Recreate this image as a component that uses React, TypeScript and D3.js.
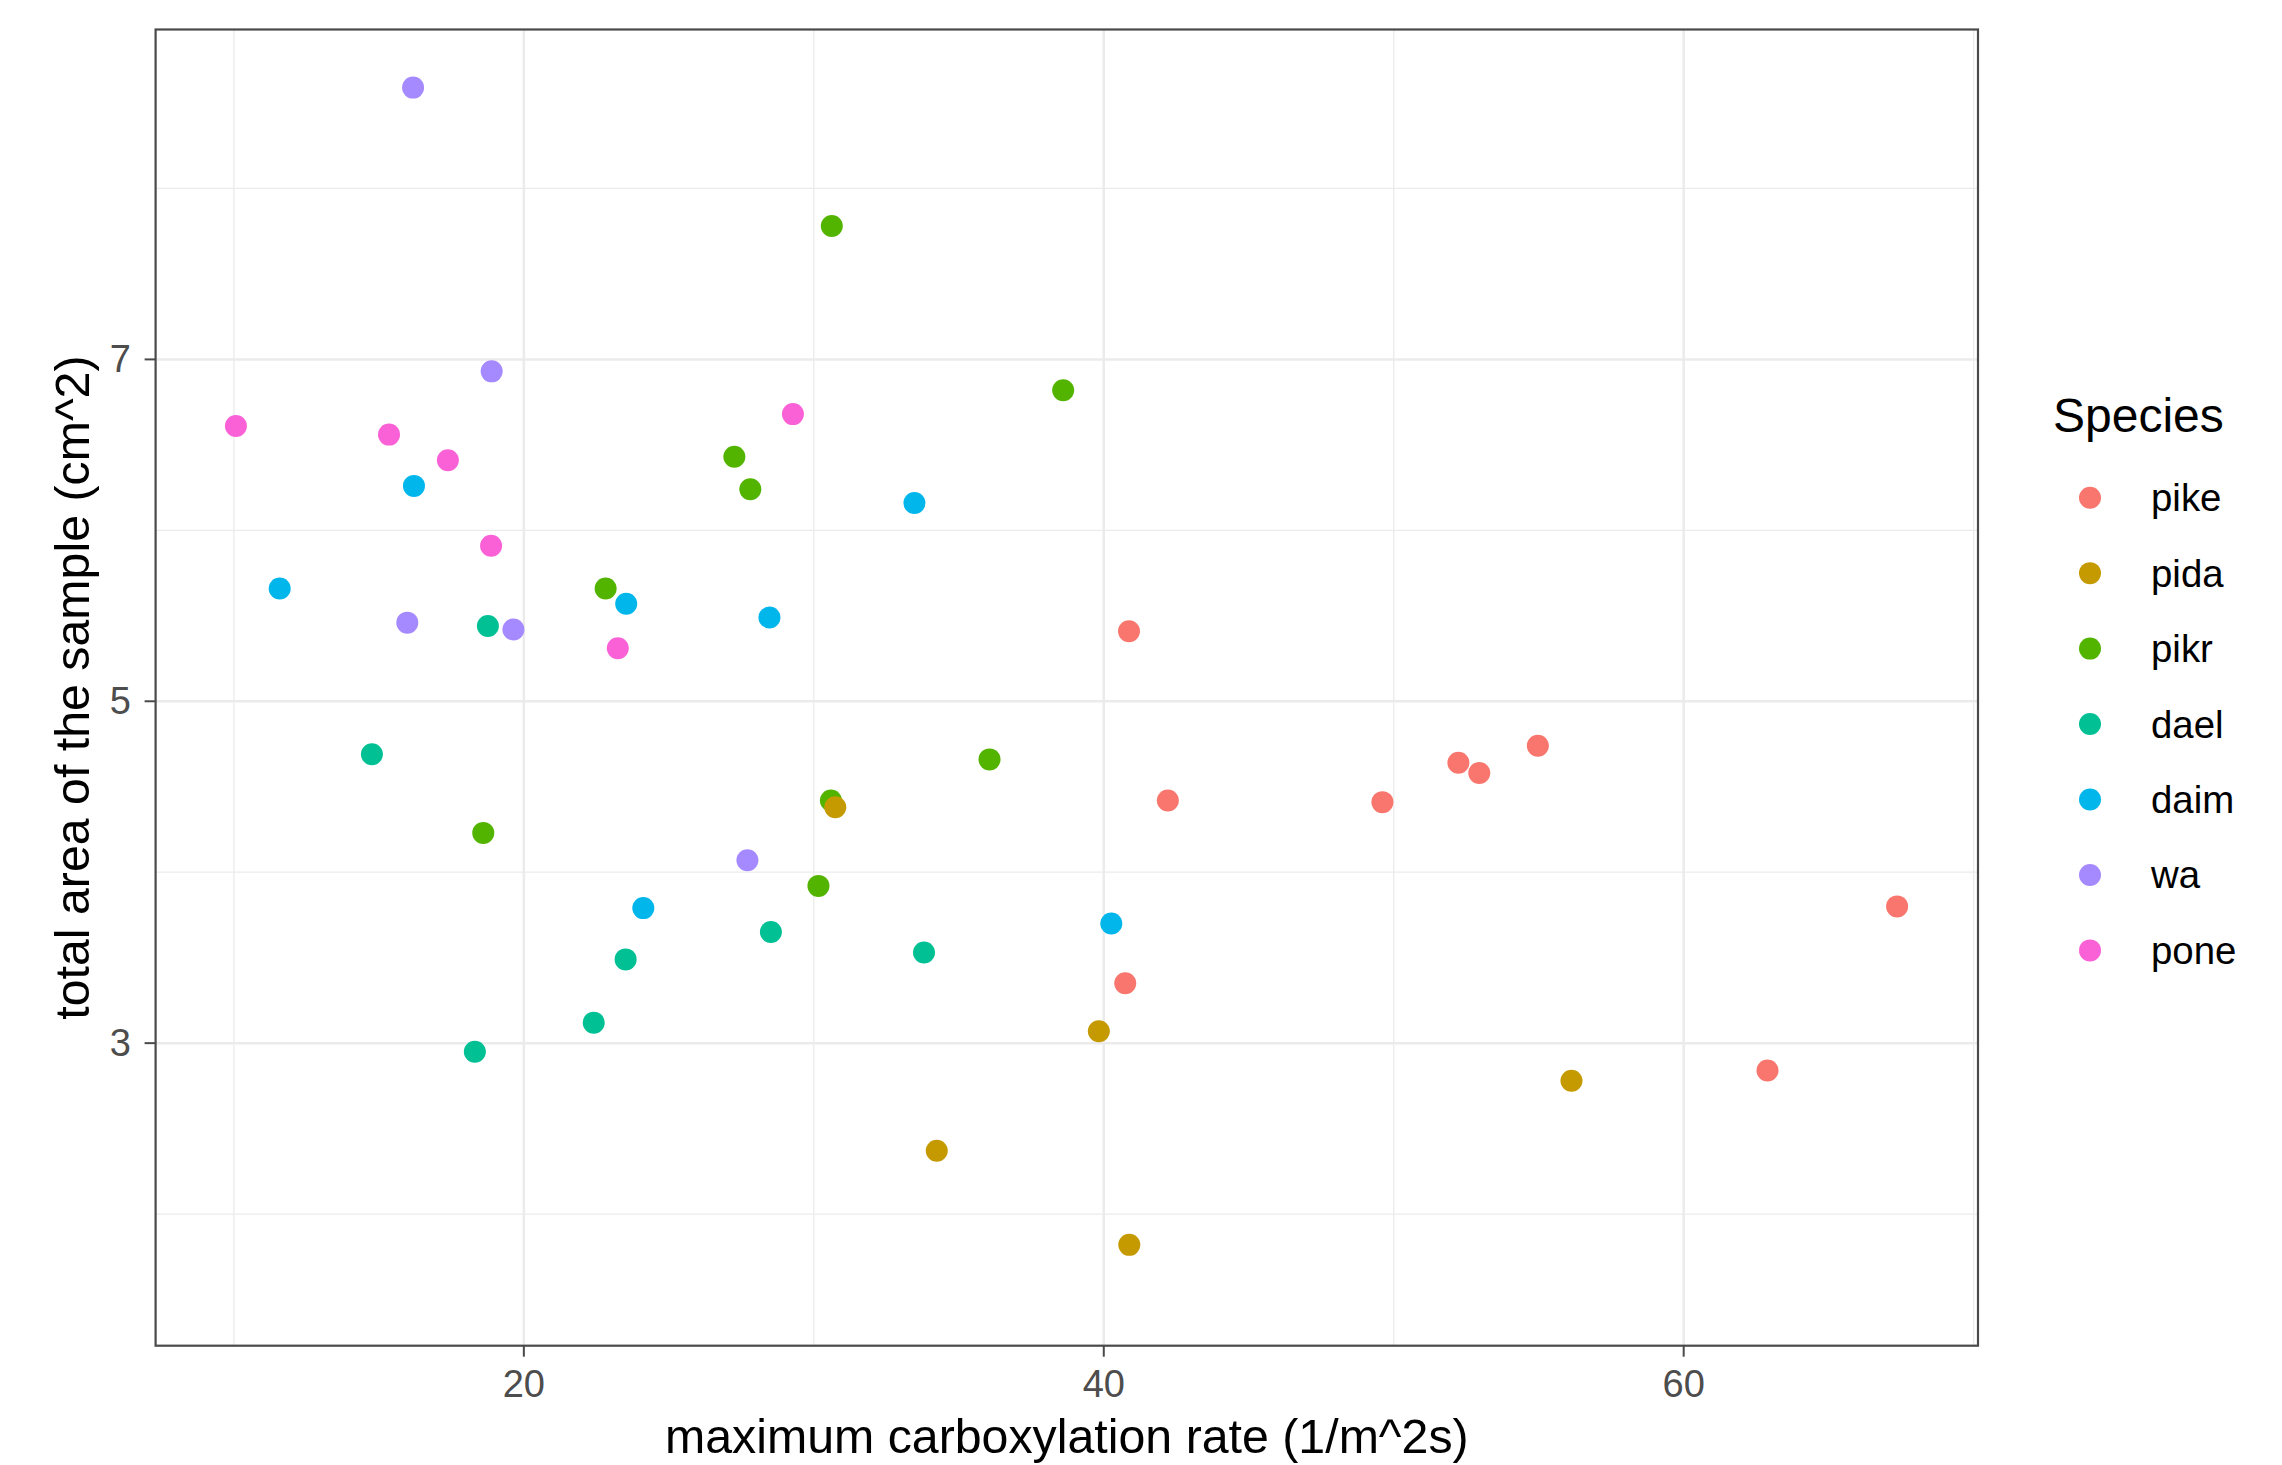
import React from 'react';
import * as d3 from 'd3';

// species in legend order, with the default ggplot hue colours
const species = ['pike', 'pida', 'pikr', 'dael', 'daim', 'wa', 'pone'];
const speciesColors = ['#F8766D', '#C49A00', '#53B400', '#00C094', '#00B6EB', '#A58AFF', '#FB61D7'];

// [carboxylation rate, total area]
const pike: [number, number][] = [
  [40.87, 5.41], [42.21, 4.42], [40.74, 3.35], [49.61, 4.41], [52.23, 4.64],
  [52.95, 4.58], [54.97, 4.74], [67.36, 3.80], [62.89, 2.84],
];
const pida: [number, number][] = [
  [30.74, 4.38], [39.83, 3.07], [34.24, 2.37], [40.88, 1.82], [56.13, 2.78],
];
const pikr: [number, number][] = [
  [22.82, 5.66], [27.26, 6.43], [27.81, 6.24], [30.62, 7.78], [38.60, 6.82],
  [18.60, 4.23], [36.06, 4.66], [30.59, 4.42], [30.16, 3.92],
];
const dael: [number, number][] = [
  [18.76, 5.44], [14.76, 4.69], [23.51, 3.49], [22.41, 3.12], [18.31, 2.95],
  [28.52, 3.65], [33.80, 3.53],
];
const daim: [number, number][] = [
  [16.21, 6.26], [11.58, 5.66], [23.53, 5.57], [28.47, 5.49], [33.47, 6.16],
  [24.12, 3.79], [40.26, 3.70],
];
const wa: [number, number][] = [
  [16.18, 8.59], [18.89, 6.93], [15.98, 5.46], [19.64, 5.42], [27.71, 4.07],
];
const pone: [number, number][] = [
  [10.07, 6.61], [15.35, 6.56], [17.38, 6.41], [18.87, 5.91], [23.24, 5.31],
  [29.28, 6.68],
];

const seriesBySpecies: Record<string, [number, number][]> = { pike, pida, pikr, dael, daim, wa, pone };
// pida sits on top of pikr where they overlap
const drawOrder = ['pike', 'pikr', 'dael', 'daim', 'wa', 'pone', 'pida'];

const xLimits = [7.3, 70.15];
const yLimits = [1.23, 8.93];
const xMajor = [20, 40, 60];
const xMinor = [10, 30, 50, 70];
const yMajor = [3, 5, 7];
const yMinor = [2, 4, 6, 8];

const xTitle = 'maximum carboxylation rate (1/m^2s)';
const yTitle = 'total area of the sample (cm^2)';
const legendTitle = 'Species';

const W = 2282;
const H = 1465;
const panel = { left: 155.6, right: 1978, top: 29.5, bottom: 1345.7 };
const font = '"Liberation Sans", Arial, Helvetica, sans-serif';

const App: React.FC = () => {
  const x = d3.scaleLinear().domain(xLimits).range([panel.left, panel.right]);
  const y = d3.scaleLinear().domain(yLimits).range([panel.bottom, panel.top]);
  const color = d3.scaleOrdinal<string, string>().domain(species).range(speciesColors);

  const legendY = d3.scalePoint<string>().domain(species).range([497.7, 950.4]);

  return (
    <svg width={W} height={H} style={{ position: 'absolute', left: 0, top: 0, background: '#fff' }}
      fontFamily={font}>
      <rect x={0} y={0} width={W} height={H} fill="#fff" />

      {/* minor grid */}
      {xMinor.map(v => (
        <line key={'xm' + v} x1={x(v)} x2={x(v)} y1={panel.top} y2={panel.bottom}
          stroke="#EBEBEB" strokeWidth={1.3} />
      ))}
      {yMinor.map(v => (
        <line key={'ym' + v} x1={panel.left} x2={panel.right} y1={y(v)} y2={y(v)}
          stroke="#EBEBEB" strokeWidth={1.3} />
      ))}
      {/* major grid */}
      {xMajor.map(v => (
        <line key={'xM' + v} x1={x(v)} x2={x(v)} y1={panel.top} y2={panel.bottom}
          stroke="#EBEBEB" strokeWidth={2.5} />
      ))}
      {yMajor.map(v => (
        <line key={'yM' + v} x1={panel.left} x2={panel.right} y1={y(v)} y2={y(v)}
          stroke="#EBEBEB" strokeWidth={2.5} />
      ))}

      {/* points */}
      {drawOrder.map(s => (
        <g key={s} fill={color(s)}>
          {seriesBySpecies[s].map((d, i) => (
            <circle key={i} cx={x(d[0])} cy={y(d[1])} r={11} />
          ))}
        </g>
      ))}

      {/* panel border */}
      <rect x={panel.left} y={panel.top} width={panel.right - panel.left} height={panel.bottom - panel.top}
        fill="none" stroke="#4a4a4a" strokeWidth={2.2} />

      {/* x axis ticks and labels */}
      {xMajor.map(v => (
        <g key={'xt' + v}>
          <line x1={x(v)} x2={x(v)} y1={panel.bottom} y2={panel.bottom + 11} stroke="#4a4a4a" strokeWidth={2} />
          <text x={x(v)} y={1397} textAnchor="middle" fontSize={38} fill="#4D4D4D">{v}</text>
        </g>
      ))}
      {/* y axis ticks and labels */}
      {yMajor.map(v => (
        <g key={'yt' + v}>
          <line x1={panel.left - 11} x2={panel.left} y1={y(v)} y2={y(v)} stroke="#4a4a4a" strokeWidth={2} />
          <text x={131} y={y(v)} textAnchor="end" dominantBaseline="central" fontSize={38} fill="#4D4D4D">{v}</text>
        </g>
      ))}

      {/* axis titles */}
      <text x={(panel.left + panel.right) / 2} y={1453} textAnchor="middle" fontSize={48.3} fill="#000">
        {xTitle}
      </text>
      <text transform={`translate(89, ${(panel.top + panel.bottom) / 2}) rotate(-90)`} textAnchor="middle"
        fontSize={48.3} fill="#000">
        {yTitle}
      </text>

      {/* legend */}
      <text x={2053} y={432} fontSize={48} fill="#000">{legendTitle}</text>
      {species.map(s => (
        <g key={'lg' + s}>
          <circle cx={2090} cy={legendY(s)} r={11} fill={color(s)} />
          <text x={2151} y={legendY(s)} dominantBaseline="central" fontSize={38.4} fill="#000">{s}</text>
        </g>
      ))}
    </svg>
  );
};

export default App;
